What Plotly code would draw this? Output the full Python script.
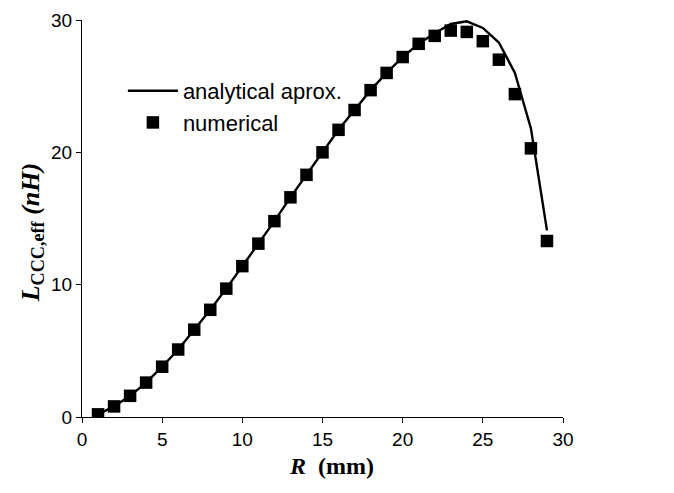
import plotly.graph_objects as go

R_num = list(range(1, 30))
L_num = [0.2, 0.8, 1.6, 2.6, 3.8, 5.1, 6.6, 8.1, 9.7, 11.4, 13.1, 14.8, 16.6, 18.3,
         20.0, 21.7, 23.2, 24.7, 26.0, 27.2, 28.2, 28.8, 29.2, 29.1, 28.4, 27.0,
         24.4, 20.3, 13.3]

R_ana = list(range(1, 30))
L_ana = [0.2, 0.8, 1.6, 2.6, 3.8, 5.1, 6.6, 8.1, 9.7, 11.4, 13.1, 14.8, 16.6, 18.3,
         20.0, 21.7, 23.2, 24.7, 26.0, 27.2, 28.2, 29.0, 29.7, 29.9, 29.4, 28.3,
         26.0, 21.8, 14.1]

x_ticks = [0, 5, 10, 15, 20, 25, 30]
y_ticks = [0, 10, 20, 30]

x_title = "<b><i>R</i></b><b>  (mm)</b>"
y_title = "<b><i>L</i></b><sub><b>CCC,eff</b></sub><b><i> (nH)</i></b>"

fig = go.Figure()
fig.add_trace(go.Scatter(x=R_ana, y=L_ana, mode="lines", name="analytical aprox.",
                         legendgroup="a",
                         line=dict(color="black", width=2.4)))
fig.add_trace(go.Scatter(x=R_num, y=L_num, mode="markers", name="numerical",
                         legendgroup="b",
                         marker=dict(symbol="square", size=12.5, color="black")))

serif = "Liberation Serif, Times New Roman, serif"
sans = "Liberation Sans, Arial, sans-serif"

fig.update_layout(
    width=674, height=493,
    margin=dict(l=74, r=119, t=12, b=84, autoexpand=False),
    paper_bgcolor="white", plot_bgcolor="white",
    font=dict(family=sans, size=18, color="black"),
    showlegend=True,
    legend=dict(x=0.085, y=0.874, xanchor="left", yanchor="top",
                bgcolor="rgba(0,0,0,0)", font=dict(family=sans, size=22),
                traceorder="grouped", tracegroupgap=0, itemwidth=50),
    xaxis=dict(range=[0, 30], tickvals=x_ticks, showline=True, linecolor="black",
               linewidth=1, ticks="outside", ticklen=5, tickcolor="black",
               showgrid=False, zeroline=False, automargin=False,
               ticklabeloverflow="allow",
               tickfont=dict(family=sans, size=19)),
    yaxis=dict(range=[0, 30], tickvals=y_ticks, showline=True, linecolor="black",
               linewidth=1, ticks="outside", ticklen=5, tickcolor="black",
               showgrid=False, zeroline=False, automargin=False,
               ticklabeloverflow="allow",
               tickfont=dict(family=sans, size=19)),
    annotations=[
        dict(text=x_title, xref="paper", yref="paper", x=0.518, y=-0.123,
             xanchor="center", yanchor="middle", showarrow=False,
             font=dict(family=serif, size=24, color="black")),
        dict(text=y_title, xref="paper", yref="paper", x=-0.104, y=0.465,
             xanchor="center", yanchor="middle", showarrow=False, textangle=-90,
             font=dict(family=serif, size=26, color="black")),
    ],
)

fig.write_html("out.html")
